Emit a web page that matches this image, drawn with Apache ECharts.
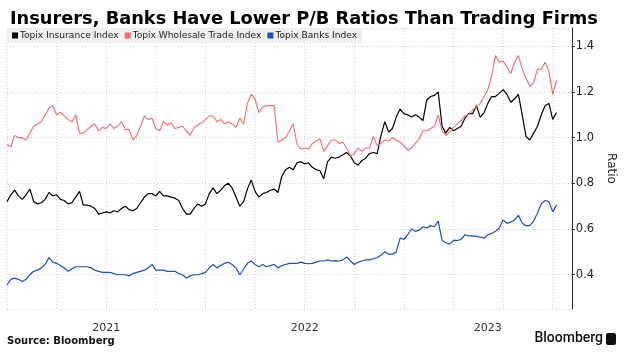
<!DOCTYPE html>
<html lang="en">
<head>
<meta charset="UTF-8"/>
<title>P/B Ratios</title>
<script src="https://cdn.jsdelivr.net/npm/echarts@6/dist/echarts.min.js"></script>
<style>
  html, body { margin: 0; padding: 0; background: #fff; }
  #main { width: 625px; height: 354px; }
</style>
</head>
<body>
<div id="main"></div>
<script>
// weekly samples starting 2021-01-01
var startDate = '2021-01-01';
var weekCount = 149;
var yearLabels = { 26: '2021', 78: '2022', 126: '2023' };

var insurance = [
  0.72,0.75,0.77,0.745,0.73,0.75,0.775,0.72,0.71,0.715,
  0.73,0.76,0.745,0.75,0.73,0.725,0.71,0.715,0.74,0.765,
  0.705,0.705,0.70,0.69,0.665,0.67,0.675,0.67,0.68,0.675,
  0.69,0.70,0.685,0.68,0.69,0.715,0.74,0.755,0.755,0.745,
  0.765,0.745,0.745,0.74,0.735,0.725,0.69,0.665,0.665,0.69,
  0.71,0.70,0.71,0.755,0.78,0.755,0.77,0.79,0.80,0.78,
  0.74,0.70,0.72,0.775,0.815,0.765,0.74,0.755,0.76,0.77,
  0.775,0.76,0.83,0.86,0.87,0.86,0.89,0.895,0.885,0.89,
  0.87,0.86,0.855,0.82,0.895,0.915,0.91,0.915,0.925,0.935,
  0.92,0.89,0.88,0.90,0.91,0.93,0.935,0.93,1.01,1.07,
  1.025,1.04,1.09,1.125,1.105,1.10,1.09,1.10,1.09,1.075,
  1.165,1.18,1.185,1.20,1.05,1.02,1.045,1.03,1.04,1.05,
  1.085,1.105,1.105,1.14,1.09,1.11,1.15,1.18,1.18,1.195,
  1.21,1.19,1.155,1.17,1.19,1.10,1.005,0.99,1.02,1.05,
  1.10,1.14,1.15,1.08,1.11
];

var wholesale = [
  0.97,0.96,1.01,1.0,1.0,0.99,1.02,1.05,1.06,1.07,
  1.10,1.13,1.14,1.10,1.11,1.095,1.08,1.07,1.10,1.02,
  1.02,1.035,1.05,1.06,1.03,1.045,1.04,1.06,1.04,1.05,
  1.07,1.035,1.035,0.99,1.01,1.05,1.095,1.08,1.085,1.04,
  1.03,1.07,1.055,1.065,1.04,1.045,1.05,1.03,1.01,1.045,
  1.055,1.065,1.08,1.095,1.095,1.07,1.08,1.06,1.07,1.06,
  1.045,1.085,1.06,1.15,1.19,1.17,1.11,1.135,1.14,1.14,
  1.14,0.98,0.99,1.0,1.03,1.06,0.97,0.95,0.955,0.95,
  0.975,0.985,0.995,0.94,0.965,0.99,0.99,0.975,0.98,0.955,
  0.92,0.93,0.955,0.94,0.955,0.955,1.005,0.965,0.975,0.99,
  0.985,1.0,0.99,0.98,0.965,0.945,0.955,0.975,0.995,1.03,
  1.03,1.04,1.05,1.10,1.03,1.01,1.025,1.045,1.06,1.075,
  1.095,1.10,1.12,1.135,1.15,1.18,1.21,1.27,1.36,1.33,
  1.335,1.31,1.28,1.33,1.36,1.30,1.26,1.225,1.24,1.30,
  1.30,1.33,1.29,1.19,1.25
];

var banks = [
  0.355,0.38,0.385,0.38,0.37,0.38,0.40,0.415,0.42,0.43,
  0.445,0.475,0.455,0.45,0.44,0.43,0.415,0.425,0.435,0.435,
  0.435,0.435,0.43,0.42,0.415,0.41,0.41,0.41,0.405,0.40,
  0.40,0.40,0.395,0.405,0.41,0.415,0.42,0.43,0.445,0.42,
  0.42,0.42,0.415,0.415,0.415,0.405,0.40,0.385,0.395,0.40,
  0.40,0.405,0.41,0.43,0.445,0.43,0.44,0.45,0.455,0.445,
  0.43,0.40,0.425,0.45,0.46,0.445,0.435,0.445,0.435,0.44,
  0.445,0.43,0.44,0.445,0.45,0.45,0.45,0.455,0.45,0.448,
  0.45,0.455,0.46,0.46,0.465,0.46,0.462,0.46,0.465,0.478,
  0.46,0.445,0.455,0.46,0.465,0.465,0.47,0.475,0.485,0.50,
  0.49,0.49,0.50,0.56,0.555,0.575,0.60,0.59,0.595,0.61,
  0.605,0.615,0.61,0.635,0.55,0.54,0.535,0.55,0.55,0.555,
  0.575,0.57,0.57,0.568,0.565,0.56,0.575,0.58,0.59,0.605,
  0.64,0.625,0.63,0.64,0.66,0.625,0.615,0.615,0.635,0.67,
  0.71,0.725,0.72,0.675,0.705
];

// weekly category dates
var weeks = [];
var d0 = new Date(startDate + 'T00:00:00Z');
for (var i = 0; i < weekCount; i++) {
  var d = new Date(d0.getTime() + i * 7 * 86400000);
  weeks.push(d.toISOString().slice(0, 10));
}

var myChart = echarts.init(document.getElementById('main'));

myChart.setOption({
  animation: false,
  backgroundColor: '#fff',
  textStyle: { fontFamily: 'DejaVu Sans, sans-serif' },
  title: {
    text: 'Insurers, Banks Have Lower P/B Ratios Than Trading Firms',
    left: 5,
    top: 5,
    textStyle: { fontSize: 17.8, fontWeight: 'bold', color: '#000', fontFamily: 'DejaVu Sans, sans-serif' }
  },
  legend: {
    left: 7,
    top: 28,
    backgroundColor: '#efefef',
    padding: [3, 5, 3, 5],
    itemGap: 6,
    itemWidth: 6,
    itemHeight: 6,
    icon: 'rect',
    textStyle: { fontSize: 9.1, color: '#222', padding: [0, 0, 0, -3] },
    data: ['Topix Insurance Index', 'Topix Wholesale Trade Index', 'Topix Banks Index']
  },
  grid: { left: 7, right: 38, top: 28, bottom: 45 },
  xAxis: {
    type: 'category',
    data: weeks,
    boundaryGap: false,
    axisLine: { show: false },
    axisTick: { show: false },
    axisLabel: {
      interval: function (idx) { return yearLabels[idx] !== undefined; },
      formatter: function (v) { return v.slice(0, 4); },
      color: '#333',
      fontSize: 11,
      margin: 14
    },
    splitLine: {
      show: true,
      interval: function (idx) { return idx % 13 === 0; },
      lineStyle: { color: '#d4d4d4', type: [1, 2], width: 1 }
    }
  },
  yAxis: {
    type: 'value',
    position: 'right',
    min: 0.25,
    max: 1.48,
    name: 'Ratio',
    nameLocation: 'middle',
    nameRotate: -90,
    nameGap: 27,
    nameTextStyle: { fontSize: 12, color: '#222' },
    axisLine: { show: true, lineStyle: { color: '#222', width: 1 } },
    axisTick: { show: true, inside: false, length: 3, lineStyle: { color: '#222' } },
    axisLabel: {
      showMinLabel: false,
      showMaxLabel: false,
      color: '#222',
      fontSize: 11.5,
      margin: 4,
      formatter: function (v) { return v.toFixed(1); }
    },
    splitLine: { show: true, lineStyle: { color: '#cfcfcf', type: [1, 2] } }
  },
  series: [
    {
      name: 'Topix Insurance Index',
      type: 'line',
      data: insurance,
      showSymbol: false,
      color: '#000',
      lineStyle: { width: 1.2, color: '#000' }
    },
    {
      name: 'Topix Wholesale Trade Index',
      type: 'line',
      data: wholesale,
      showSymbol: false,
      color: '#ef6b6e',
      lineStyle: { width: 1.1, color: '#ef6b6e' }
    },
    {
      name: 'Topix Banks Index',
      type: 'line',
      data: banks,
      showSymbol: false,
      color: '#1c4fc0',
      lineStyle: { width: 1.2, color: '#1c4fc0' }
    }
  ],
  graphic: [
    {
      type: 'text',
      left: 7,
      top: 336,
      style: { text: 'Source: Bloomberg', fontSize: 10, fontWeight: 'bold', fill: '#111',
               fontFamily: 'DejaVu Sans, sans-serif' }
    },
    {
      type: 'text',
      right: 22,
      top: 331,
      style: { text: 'Bloomberg', fontSize: 14, fontWeight: 500, fill: '#111',
               fontFamily: 'Roboto, sans-serif' }
    },
    {
      type: 'rect',
      right: 9,
      top: 333,
      shape: { width: 10, height: 12, r: 2 },
      style: { fill: '#111' }
    }
  ]
});
</script>
</body>
</html>
